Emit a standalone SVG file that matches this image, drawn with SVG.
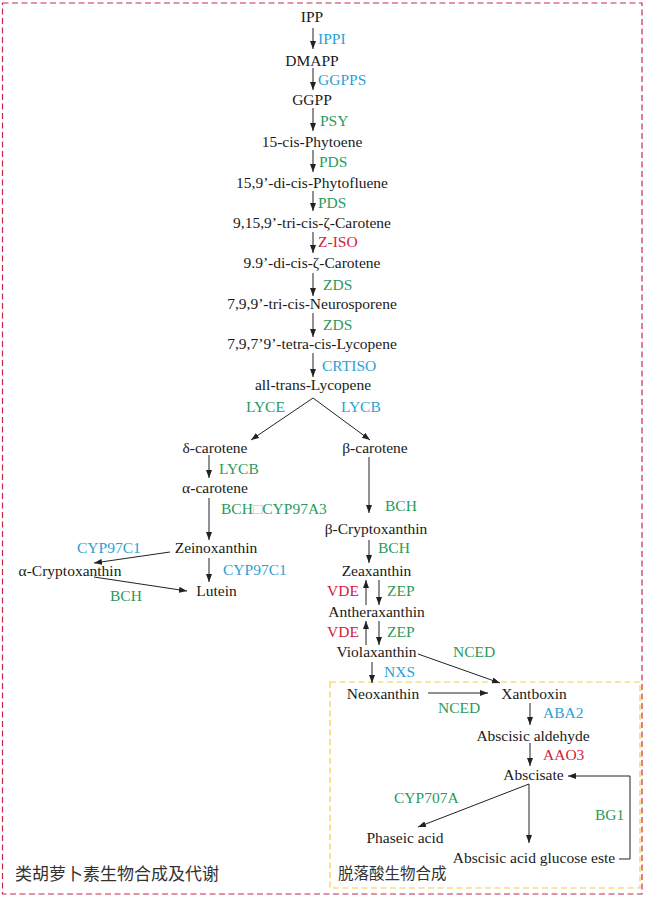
<svg xmlns="http://www.w3.org/2000/svg" width="650" height="897" viewBox="0 0 650 897">
<style>
text{font-family:"Liberation Serif","Times New Roman",serif;font-size:15.5px;fill:#1a1a1a}
.n{text-anchor:middle}
.g{fill:#2a9a5c}
.b{fill:#2b9fd4}
.r{fill:#d2203c}
.q{fill:#bbbbbb}
.zh{font-family:"Liberation Serif","Noto Sans CJK SC",serif;fill:#333}
.c line,.c path{stroke:#222;stroke-width:1;fill:none;marker-end:url(#ah)}
</style>
<defs>
<marker id="ah" viewBox="0 0 8 6" refX="8" refY="3" markerWidth="8" markerHeight="6" markerUnits="userSpaceOnUse" orient="auto">
<path d="M0,0 L8,3 L0,6 Z" fill="#222"/>
</marker>
</defs>
<rect id="frame-carotenoid" x="2.5" y="3" width="639.5" height="891" fill="none" stroke="#c8284e" stroke-width="1.2" stroke-dasharray="6 3.5"/>
<rect id="frame-aba" x="330" y="682" width="310" height="206" fill="none" stroke="#f2cf4a" stroke-width="1.2" stroke-dasharray="6 3.5"/>
<g class="c" id="connectors">
<line x1="313" y1="28" x2="313" y2="49"/>
<line x1="313" y1="68" x2="313" y2="90"/>
<line x1="313" y1="108" x2="313" y2="131"/>
<line x1="313" y1="150" x2="313" y2="172"/>
<line x1="313" y1="191" x2="313" y2="211"/>
<line x1="313" y1="232" x2="313" y2="253"/>
<line x1="313" y1="273" x2="313" y2="296"/>
<line x1="313" y1="313" x2="313" y2="337"/>
<line x1="313" y1="353" x2="313" y2="377"/>
<path d="M313,398 L251,440"/>
<path d="M313,398 L370,440"/>
<line x1="209" y1="455" x2="209" y2="478"/>
<line x1="209" y1="498" x2="209" y2="540"/>
<line x1="209" y1="558" x2="209" y2="582"/>
<line x1="170" y1="552" x2="94" y2="563"/>
<line x1="94" y1="577" x2="187" y2="591"/>
<line x1="369" y1="457" x2="369" y2="513"/>
<line x1="369" y1="540" x2="369" y2="563"/>
<line x1="366" y1="605" x2="366" y2="580"/>
<line x1="379" y1="580" x2="379" y2="605"/>
<line x1="366" y1="645" x2="366" y2="621"/>
<line x1="379" y1="621" x2="379" y2="645"/>
<line x1="418" y1="654" x2="500" y2="683"/>
<line x1="372" y1="662" x2="372" y2="683"/>
<line x1="428" y1="693" x2="488" y2="693"/>
<line x1="530" y1="703" x2="530" y2="725"/>
<line x1="530" y1="743" x2="530" y2="766"/>
<line x1="529" y1="784" x2="418" y2="827"/>
<line x1="529" y1="784" x2="529" y2="843"/>
<path d="M619,859 L630,859 L630,776 L568,776"/>
</g>
<g id="IPP"><text class="n" x="312" y="22">IPP</text></g>
<g id="DMAPP"><text class="n" x="312" y="66">DMAPP</text></g>
<g id="GGPP"><text class="n" x="312" y="105">GGPP</text></g>
<g id="phytoene"><text class="n" x="312" y="147">15-cis-Phytoene</text></g>
<g id="phytofluene"><text class="n" x="312" y="188">15,9’-di-cis-Phytofluene</text></g>
<g id="tri-zeta"><text class="n" x="312" y="228">9,15,9’-tri-cis-ζ-Carotene</text></g>
<g id="di-zeta"><text class="n" x="312" y="268">9.9’-di-cis-ζ-Carotene</text></g>
<g id="neurosporene"><text class="n" x="312" y="309">7,9,9’-tri-cis-Neurosporene</text></g>
<g id="tetra-lycopene"><text class="n" x="312" y="349">7,9,7’9’-tetra-cis-Lycopene</text></g>
<g id="all-trans"><text class="n" x="313" y="390">all-trans-Lycopene</text></g>
<g id="delta-carotene"><text class="n" x="215" y="453">δ-carotene</text></g>
<g id="alpha-carotene"><text class="n" x="215" y="493">α-carotene</text></g>
<g id="zeinoxanthin"><text class="n" x="216" y="553">Zeinoxanthin</text></g>
<g id="alpha-crypto"><text class="n" x="70" y="576">α-Cryptoxanthin</text></g>
<g id="lutein"><text class="n" x="216.5" y="596">Lutein</text></g>
<g id="beta-carotene"><text class="n" x="375" y="453">β-carotene</text></g>
<g id="beta-crypto"><text class="n" x="376" y="534">β-Cryptoxanthin</text></g>
<g id="zeaxanthin"><text class="n" x="376.5" y="576">Zeaxanthin</text></g>
<g id="antheraxanthin"><text class="n" x="376.5" y="617">Antheraxanthin</text></g>
<g id="violaxanthin"><text class="n" x="376.5" y="657">Violaxanthin</text></g>
<g id="neoxanthin"><text class="n" x="383" y="699">Neoxanthin</text></g>
<g id="xantboxin"><text class="n" x="534" y="699">Xantboxin</text></g>
<g id="aldehyde"><text class="n" x="533" y="741">Abscisic aldehyde</text></g>
<g id="abscisate"><text class="n" x="533.5" y="780">Abscisate</text></g>
<g id="phaseic"><text class="n" x="405" y="843">Phaseic acid</text></g>
<g id="glucose-ester"><text class="n" x="534" y="863">Abscisic acid glucose este</text></g>
<g id="labels">
<text class="b" x="318" y="44">IPPI</text>
<text class="b" x="318" y="85">GGPPS</text>
<text class="g" x="320" y="126">PSY</text>
<text class="g" x="319" y="167">PDS</text>
<text class="g" x="318" y="208">PDS</text>
<text class="r" x="318" y="247">Z-ISO</text>
<text class="g" x="323" y="290">ZDS</text>
<text class="g" x="323" y="330">ZDS</text>
<text class="b" x="322" y="371">CRTISO</text>
<text class="g" x="246" y="412">LYCE</text>
<text class="b" x="341" y="412">LYCB</text>
<text class="g" x="219" y="474">LYCB</text>
<text class="g" x="221" y="514">BCH<tspan class="q">□</tspan>CYP97A3</text>
<text class="b" x="77" y="553">CYP97C1</text>
<text class="b" x="223" y="575">CYP97C1</text>
<text class="g" x="110" y="601">BCH</text>
<text class="g" x="385" y="511">BCH</text>
<text class="g" x="378" y="553">BCH</text>
<text class="r" x="327" y="596">VDE</text>
<text class="g" x="387" y="596">ZEP</text>
<text class="r" x="327" y="637">VDE</text>
<text class="g" x="387" y="637">ZEP</text>
<text class="g" x="453" y="657">NCED</text>
<text class="b" x="384" y="677">NXS</text>
<text class="g" x="438" y="713">NCED</text>
<text class="b" x="543" y="718">ABA2</text>
<text class="r" x="543" y="760">AAO3</text>
<text class="g" x="394" y="803">CYP707A</text>
<text class="g" x="595" y="820">BG1</text>
</g>
<g id="region-labels">
<text class="zh" x="15" y="880" style="font-size:17px">类胡萝卜素生物合成及代谢</text>
<text class="zh" x="338" y="879" style="font-size:15.5px">脱落酸生物合成</text>
</g>
</svg>
